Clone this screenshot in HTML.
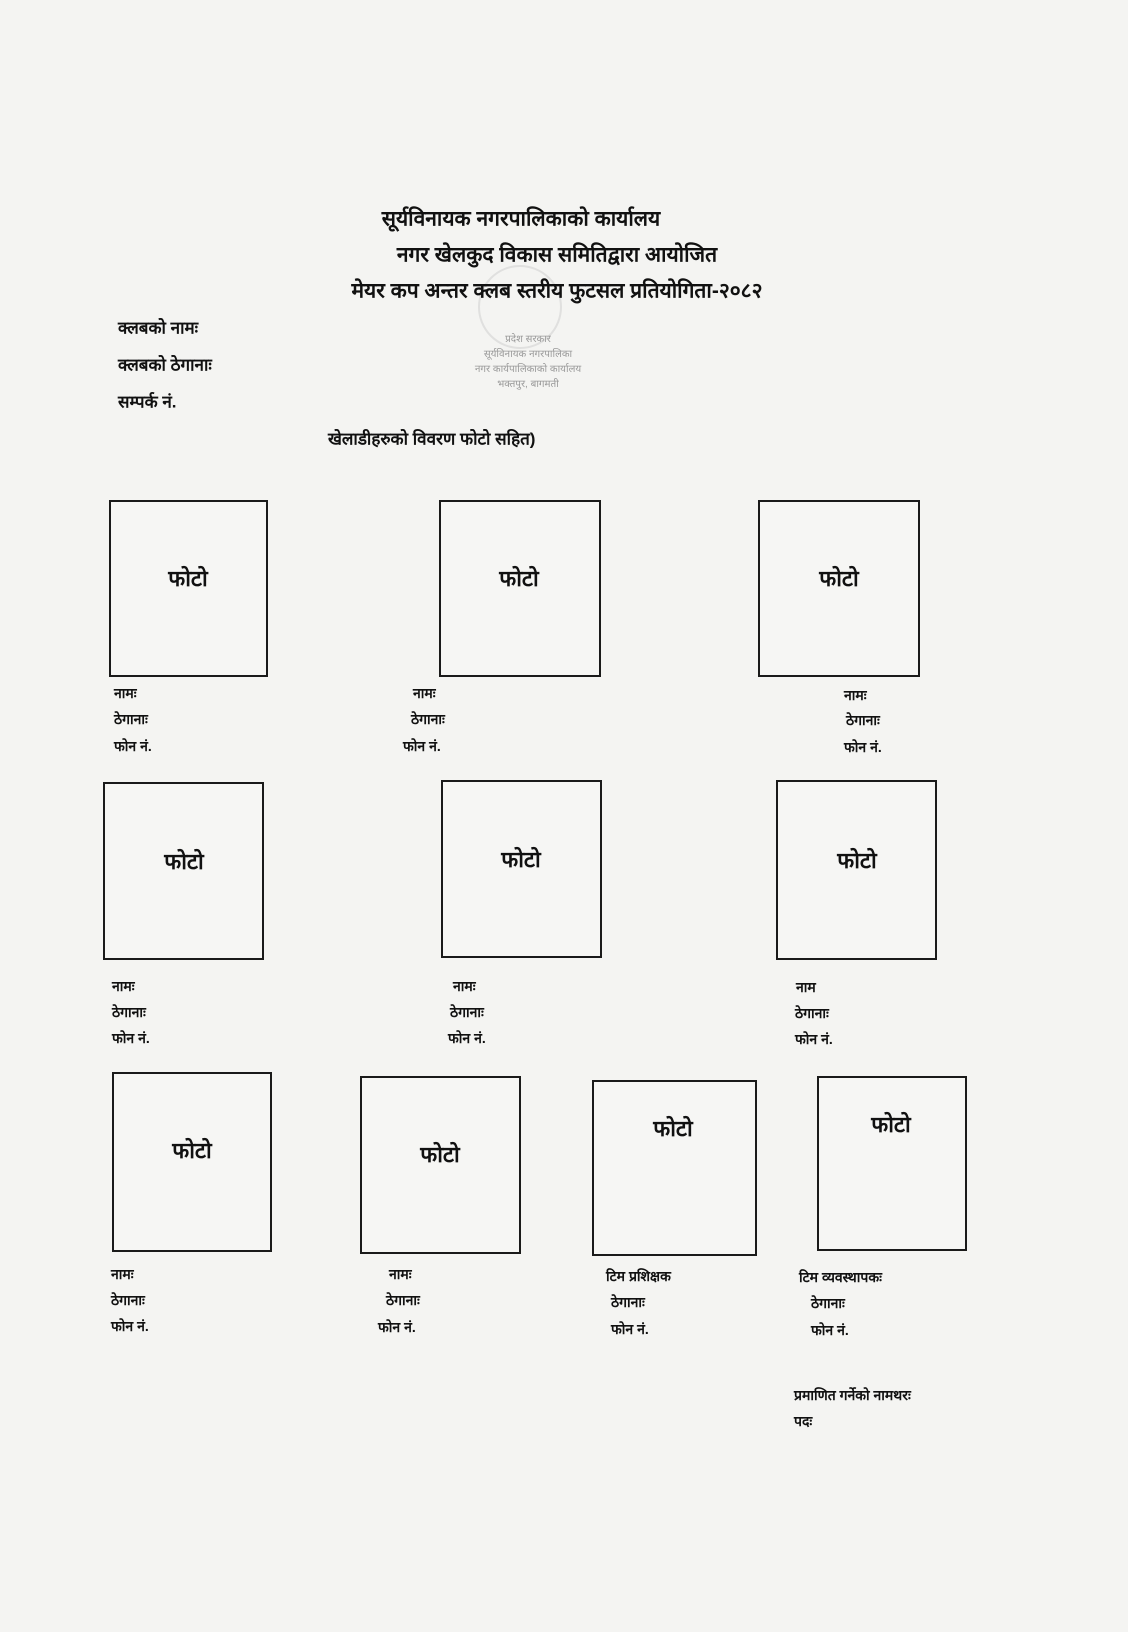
<!DOCTYPE html>
<html><head><meta charset="utf-8"><style>
html,body{margin:0;padding:0;}
body{width:1128px;height:1632px;background:#f4f4f2;position:relative;overflow:hidden;font-family:"Liberation Sans","Noto Sans CJK SC","WenQuanYi Zen Hei",sans-serif;color:#111;}
.t{position:absolute;white-space:nowrap;transform:translateY(-50%);font-weight:bold;line-height:1;}
.c{transform:translate(-50%,-50%);}
.b{position:absolute;border:2.5px solid #1a1a1a;box-sizing:border-box;background:#f6f6f4;}
.h{font-size:21px;}
.s{font-size:14px;}
.p{font-size:22px;}
.l{font-size:17px;}
</style></head><body>
<div style="position:absolute;left:478px;top:265px;width:80px;height:80px;border-radius:50%;border:2px solid #ccc;opacity:.5"></div>
<div class="t c" style="left:528px;top:340px;font-size:10px;color:#999;font-weight:normal">प्रदेश सरकार</div>
<div class="t c" style="left:528px;top:355px;font-size:10px;color:#999;font-weight:normal">सूर्यविनायक नगरपालिका</div>
<div class="t c" style="left:528px;top:370px;font-size:10px;color:#999;font-weight:normal">नगर कार्यपालिकाको कार्यालय</div>
<div class="t c" style="left:528px;top:385px;font-size:10px;color:#999;font-weight:normal">भक्तपुर, बागमती</div>

<div class="t c h" style="left:521px;top:219px">सूर्यविनायक नगरपालिकाको कार्यालय</div>
<div class="t c h" style="left:557px;top:255px">नगर खेलकुद विकास समितिद्वारा आयोजित</div>
<div class="t c h" style="left:557px;top:291px">मेयर कप अन्तर क्लब स्तरीय फुटसल प्रतियोगिता-२०८२</div>
<div class="t l" style="left:118px;top:328px">क्लबको नामः</div>
<div class="t l" style="left:118px;top:365px">क्लबको ठेगानाः</div>
<div class="t l" style="left:118px;top:402px">सम्पर्क नं.</div>
<div class="t l" style="left:328px;top:439px">खेलाडीहरुको विवरण फोटो सहित)</div>

<div class="b" style="left:109px;top:500px;width:159px;height:177px"></div>
<div class="b" style="left:439px;top:500px;width:162px;height:177px"></div>
<div class="b" style="left:758px;top:500px;width:162px;height:177px"></div>
<div class="b" style="left:103px;top:782px;width:161px;height:178px"></div>
<div class="b" style="left:441px;top:780px;width:161px;height:178px"></div>
<div class="b" style="left:776px;top:780px;width:161px;height:180px"></div>
<div class="b" style="left:112px;top:1072px;width:160px;height:180px"></div>
<div class="b" style="left:360px;top:1076px;width:161px;height:178px"></div>
<div class="b" style="left:592px;top:1080px;width:165px;height:176px"></div>
<div class="b" style="left:817px;top:1076px;width:150px;height:175px"></div>

<div class="t c p" style="left:188px;top:579px">फोटो</div>
<div class="t c p" style="left:519px;top:579px">फोटो</div>
<div class="t c p" style="left:839px;top:579px">फोटो</div>
<div class="t c p" style="left:184px;top:862px">फोटो</div>
<div class="t c p" style="left:521px;top:860px">फोटो</div>
<div class="t c p" style="left:857px;top:861px">फोटो</div>
<div class="t c p" style="left:192px;top:1151px">फोटो</div>
<div class="t c p" style="left:440px;top:1155px">फोटो</div>
<div class="t c p" style="left:673px;top:1129px">फोटो</div>
<div class="t c p" style="left:891px;top:1125px">फोटो</div>

<div class="t s" style="left:114px;top:693px">नामः</div>
<div class="t s" style="left:114px;top:719px">ठेगानाः</div>
<div class="t s" style="left:114px;top:746px">फोन नं.</div>
<div class="t s" style="left:413px;top:693px">नामः</div>
<div class="t s" style="left:411px;top:719px">ठेगानाः</div>
<div class="t s" style="left:403px;top:746px">फोन नं.</div>
<div class="t s" style="left:844px;top:695px">नामः</div>
<div class="t s" style="left:846px;top:720px">ठेगानाः</div>
<div class="t s" style="left:844px;top:747px">फोन नं.</div>

<div class="t s" style="left:112px;top:986px">नामः</div>
<div class="t s" style="left:112px;top:1012px">ठेगानाः</div>
<div class="t s" style="left:112px;top:1038px">फोन नं.</div>
<div class="t s" style="left:453px;top:986px">नामः</div>
<div class="t s" style="left:450px;top:1012px">ठेगानाः</div>
<div class="t s" style="left:448px;top:1038px">फोन नं.</div>
<div class="t s" style="left:796px;top:987px">नाम</div>
<div class="t s" style="left:795px;top:1013px">ठेगानाः</div>
<div class="t s" style="left:795px;top:1039px">फोन नं.</div>

<div class="t s" style="left:111px;top:1274px">नामः</div>
<div class="t s" style="left:111px;top:1300px">ठेगानाः</div>
<div class="t s" style="left:111px;top:1326px">फोन नं.</div>
<div class="t s" style="left:389px;top:1274px">नामः</div>
<div class="t s" style="left:386px;top:1300px">ठेगानाः</div>
<div class="t s" style="left:378px;top:1327px">फोन नं.</div>
<div class="t s" style="left:606px;top:1276px">टिम प्रशिक्षक</div>
<div class="t s" style="left:611px;top:1302px">ठेगानाः</div>
<div class="t s" style="left:611px;top:1329px">फोन नं.</div>
<div class="t s" style="left:799px;top:1277px">टिम व्यवस्थापकः</div>
<div class="t s" style="left:811px;top:1303px">ठेगानाः</div>
<div class="t s" style="left:811px;top:1330px">फोन नं.</div>

<div class="t s" style="left:794px;top:1395px">प्रमाणित गर्नेको नामथरः</div>
<div class="t s" style="left:794px;top:1421px">पदः</div>
</body></html>
